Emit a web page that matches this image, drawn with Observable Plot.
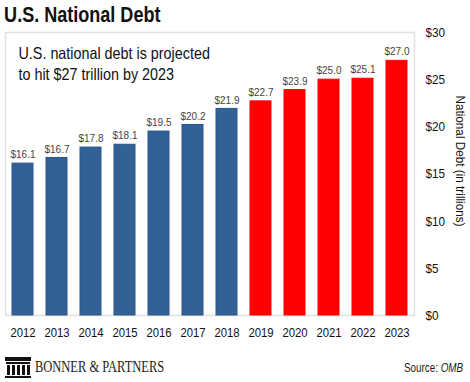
<!DOCTYPE html>
<html>
<head>
<meta charset="utf-8">
<script src="https://cdn.jsdelivr.net/npm/d3@7"></script>
<script src="https://cdn.jsdelivr.net/npm/@observablehq/plot@0.6"></script>
<style>
  body { margin: 0; background: white; width: 470px; height: 382px; overflow: hidden; font-family: "Liberation Sans", Arial, sans-serif; }
  #title { height: 24px; line-height: 30px; padding-left: 5px; font-weight: bold; font-size: 22px; color: #111; transform: scaleX(0.82); transform-origin: left center; white-space: nowrap; }
  #footer { position: relative; height: 32px; }
  #logo { position: absolute; left: 5px; top: 7px; }
  #brand { position: absolute; left: 35px; top: 8px; font-family: "Liberation Serif", "DejaVu Serif", serif; font-size: 16px; color: #222; transform: scaleX(0.78); transform-origin: left center; white-space: nowrap; }
  #source { position: absolute; right: 7px; top: 11px; font-size: 12px; color: #222; transform: scaleX(0.82); transform-origin: right center; white-space: nowrap; }
</style>
</head>
<body>
<div id="title">U.S. National Debt</div>
<div id="chart"></div>
<div id="footer">
  <svg id="logo" width="26" height="21" viewBox="0 0 26 21">
    <rect x="0" y="0" width="26" height="4" fill="#111"/>
    <rect x="1" y="5" width="24" height="2" fill="#111"/>
    <rect x="2" y="8" width="3" height="10" fill="#111"/>
    <rect x="7" y="8" width="3" height="10" fill="#111"/>
    <rect x="12" y="8" width="3" height="10" fill="#111"/>
    <rect x="17" y="8" width="3" height="10" fill="#111"/>
    <rect x="22" y="8" width="3" height="10" fill="#111"/>
    <rect x="0" y="19" width="26" height="2" fill="#111"/>
  </svg>
  <div id="brand">BONNER &amp; PARTNERS</div>
  <div id="source">Source: <i>OMB</i></div>
</div>
<script>
const years = ["2012","2013","2014","2015","2016","2017","2018","2019","2020","2021","2022","2023"];
const debt = [16.1, 16.7, 17.8, 18.1, 19.5, 20.2, 21.9, 22.7, 23.9, 25.0, 25.1, 27.0];
const projected = [false,false,false,false,false,false,false,true,true,true,true,true];
const yTicks = [0, 5, 10, 15, 20, 25, 30];
const subtitle = "U.S. national debt is projected\nto hit $27 trillion by 2023";
const yLabel = "National Debt (in trillions)";

const data = years.map((y, i) => ({year: y, value: debt[i], projected: projected[i]}));
const font = '"Liberation Sans", Arial, sans-serif';

const chart = Plot.plot({
  width: 470,
  height: 326,
  marginTop: 8,
  marginBottom: 35,
  marginLeft: 5,
  marginRight: 56,
  style: {fontFamily: font, background: "white", overflow: "visible"},
  x: {domain: years, paddingInner: 0.38, paddingOuter: 0.19, label: null},
  y: {domain: [0, 30], label: null},
  color: {domain: [false, true], range: ["#336196", "#ff0000"]},
  marks: [
    Plot.frame({stroke: "#e2e2e2", strokeWidth: 1.5}),
    Plot.barY(data, {x: "year", y: "value", fill: "projected", stroke: d => d.projected ? "#ff0000" : "#28568a", strokeWidth: 1}),
    Plot.text(data, {x: "year", y: "value", text: d => "$" + d.value.toFixed(1), dy: -9, fontSize: 11.5, fill: "#444"}),
    Plot.text([subtitle], {frameAnchor: "top-left", dx: 13, dy: 11, lineAnchor: "top", lineHeight: 1.3, fontSize: 16.5, fill: "#111", text: d => d}),
    Plot.axisX({tickSize: 0, tickPadding: 12, fontSize: 13, fill: "#111"}),
    Plot.axisY({anchor: "right", ticks: yTicks, tickSize: 0, tickPadding: 11, tickFormat: d => "$" + d, fontSize: 13.5, fill: "#111", label: null}),
    Plot.text([yLabel], {frameAnchor: "right", textAnchor: "middle", rotate: 90, dx: 46, dy: -13, fontSize: 13.5, fill: "#111", text: d => d})
  ]
});
// condense text horizontally, like the reference's narrow typeface
chart.querySelectorAll("text").forEach(t => {
  const tr = t.getAttribute("transform");
  if (tr) t.setAttribute("transform", tr + " scale(0.87,1)");
});
document.getElementById("chart").appendChild(chart);
</script>
</body>
</html>
